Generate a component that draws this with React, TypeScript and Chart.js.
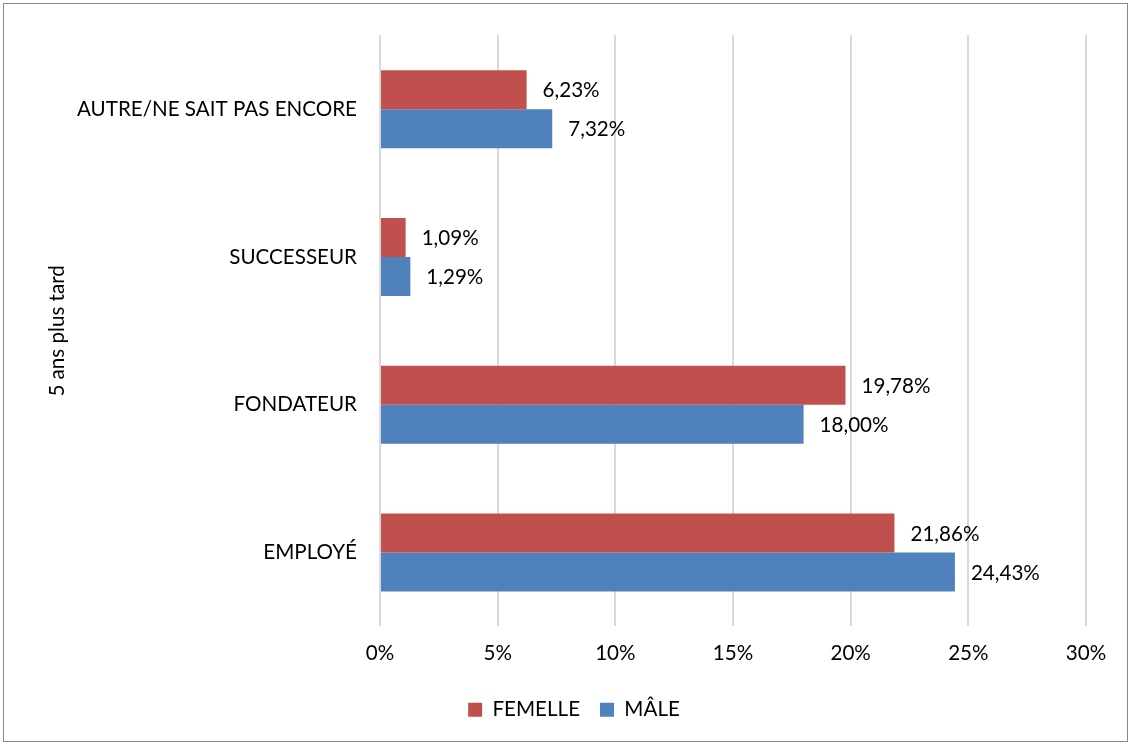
import React, { useEffect, useRef } from "react";
import { Chart, registerables } from "chart.js";

Chart.register(...registerables);

const categories = ["AUTRE/NE SAIT PAS ENCORE", "SUCCESSEUR", "FONDATEUR", "EMPLOYÉ"];
const femelleValues = [6.23, 1.09, 19.78, 21.86];
const maleValues = [7.32, 1.29, 18.0, 24.43];
const seriesNames = ["FEMELLE", "MÂLE"];
const xTicks = [0, 5, 10, 15, 20, 25, 30];
const axisTitle = "5 ans plus tard";

const FONT = "Lato";
const SIZE = 20.6;

const fmt = (v: number) => v.toFixed(2).replace(".", ",") + "%";

const labelPlugin = {
  id: "barLabels",
  afterDatasetsDraw(chart: any) {
    const ctx = chart.ctx;
    ctx.save();
    ctx.font = `${SIZE}px ${FONT}`;
    ctx.fillStyle = "#000";
    ctx.textAlign = "left";
    ctx.textBaseline = "middle";
    chart.data.datasets.forEach((ds: any, di: number) => {
      const meta = chart.getDatasetMeta(di);
      meta.data.forEach((el: any, i: number) => {
        ctx.fillText(fmt(ds.data[i]), el.x + 16, el.y + 1);
      });
    });
    ctx.restore();
  },
};

export default function App() {
  const ref = useRef<HTMLCanvasElement | null>(null);
  useEffect(() => {
    if (!ref.current) return;
    const chart = new Chart(ref.current, {
      type: "bar",
      data: {
        labels: categories,
        datasets: [
          { label: seriesNames[0], data: femelleValues, backgroundColor: "#C0504D", barPercentage: 1, categoryPercentage: 0.527 },
          { label: seriesNames[1], data: maleValues, backgroundColor: "#4F81BD", barPercentage: 1, categoryPercentage: 0.527 },
        ],
      },
      options: {
        indexAxis: "y",
        responsive: false,
        animation: false,
        layout: { padding: { left: 62, top: 31, right: 45, bottom: 15 } },
        plugins: {
          legend: {
            position: "bottom",
            labels: {
              boxWidth: 14,
              boxHeight: 14,
              padding: 20,
              color: "#000",
              font: { family: FONT, size: SIZE },
            },
          },
          tooltip: { enabled: false },
        },
        scales: {
          x: {
            min: 0,
            max: 30,
            afterBuildTicks: (s: any) => {
              s.ticks = xTicks.map((v) => ({ value: v }));
            },
            afterFit: (s: any) => {
              s.height = 53;
            },
            ticks: {
              callback: (v: any) => v + "%",
              color: "#000",
              padding: 15,
              font: { family: FONT, size: SIZE },
            },
            grid: { color: "#d9d9d9", lineWidth: 2, drawTicks: false },
            border: { display: false },
          },
          y: {
            afterFit: (s: any) => {
              s.width = 318;
            },
            grid: { display: false, drawTicks: false },
            border: { display: false },
            ticks: {
              color: "#000",
              padding: 23,
              font: { family: FONT, size: SIZE },
            },
            title: {
              display: true,
              text: axisTitle,
              color: "#000",
              padding: { top: -17, bottom: 0 },
              font: { family: FONT, size: SIZE },
            },
          },
        },
      },
      plugins: [labelPlugin],
    });
    return () => chart.destroy();
  }, []);
  return (
    <div style={{ position: "absolute", left: 0, top: 0, width: 1131, height: 745, background: "#fff" }}>
      <canvas ref={ref} width={1131} height={745} style={{ position: "absolute", left: 0, top: 0 }} />
      <div
        style={{
          position: "absolute",
          left: 3,
          top: 3,
          width: 1123,
          height: 737,
          border: "1px solid #8a8a8a",
          pointerEvents: "none",
        }}
      />
    </div>
  );
}
